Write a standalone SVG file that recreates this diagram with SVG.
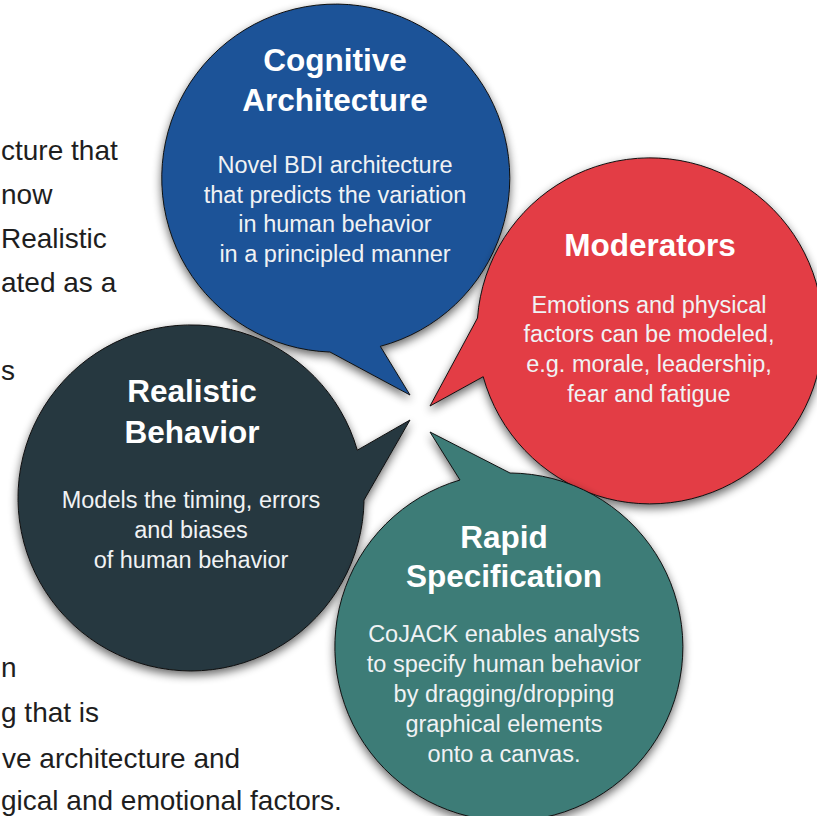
<svg xmlns="http://www.w3.org/2000/svg" width="817" height="816" viewBox="0 0 817 816">
<defs>
<filter id="sh" x="-20%" y="-20%" width="140%" height="140%">
<feGaussianBlur in="SourceAlpha" stdDeviation="5"/>
<feOffset dx="0" dy="4" result="b"/>
<feComponentTransfer><feFuncA type="linear" slope="0.6"/></feComponentTransfer>
<feMerge><feMergeNode/><feMergeNode in="SourceGraphic"/></feMerge>
</filter>
</defs>
<style>
.bg{font-family:"Liberation Sans",Arial,sans-serif;font-size:28px;fill:#1e1e1e}
.bub{stroke:#111;stroke-width:1;filter:url(#sh)}
.t{font-family:"Liberation Sans",Arial,sans-serif;font-size:31.5px;font-weight:bold;fill:#fff;text-anchor:middle}
.b{font-family:"Liberation Sans",Arial,sans-serif;font-size:23.5px;fill:#f0f2f4;text-anchor:middle}
</style>
<rect width="817" height="816" fill="#fff"/>
<g id="background-text" class="bg">
<text x="1" y="160">cture that</text>
<text x="1" y="204">now</text>
<text x="1" y="248">Realistic</text>
<text x="1" y="292">ated as a</text>
<text x="1" y="380">s</text>
<text x="1" y="677">n</text>
<text x="1" y="722">g that is</text>
<text x="2" y="768">ve architecture and</text>
<text x="1" y="810">gical and emotional factors.</text>
</g>
<g id="connectors"></g>
<g id="cognitive-architecture">
<path class="bub" fill="#1f5398" d="M380.3 346.3 L410 395 L330 352 A174 174 0 1 1 380.3 346.3 Z"/>
<text class="t" x="335" y="71">Cognitive</text>
<text class="t" x="335" y="111">Architecture</text>
<text class="b" x="335" y="173">Novel BDI architecture</text>
<text class="b" x="335" y="202.5">that predicts the variation</text>
<text class="b" x="335" y="232">in human behavior</text>
<text class="b" x="335" y="261.5">in a principled manner</text>
</g>
<g id="moderators">
<path class="bub" fill="#e33c44" d="M477.5 318 L430 406 L483.2 376.7 A173 173 0 1 0 477.5 318 Z"/>
<text class="t" x="650" y="256">Moderators</text>
<text class="b" x="649" y="312.5">Emotions and physical</text>
<text class="b" x="649" y="342">factors can be modeled,</text>
<text class="b" x="649" y="372">e.g. morale, leadership,</text>
<text class="b" x="649" y="401.5">fear and fatigue</text>
</g>
<g id="realistic-behavior">
<path class="bub" fill="#283840" d="M357.3 450.2 L410 420 L364 500 A173 173 0 1 1 357.3 450.2 Z"/>
<text class="t" x="192" y="402">Realistic</text>
<text class="t" x="192" y="443">Behavior</text>
<text class="b" x="191" y="508">Models the timing, errors</text>
<text class="b" x="191" y="538">and biases</text>
<text class="b" x="191" y="568">of human behavior</text>
</g>
<g id="rapid-specification">
<path class="bub" fill="#3c7b77" d="M460 480 L430 432 L510 473 A174 174 0 1 1 460 480 Z"/>
<text class="t" x="504" y="548">Rapid</text>
<text class="t" x="504" y="587">Specification</text>
<text class="b" x="504" y="642">CoJACK enables analysts</text>
<text class="b" x="504" y="672">to specify human behavior</text>
<text class="b" x="504" y="702">by dragging/dropping</text>
<text class="b" x="504" y="732">graphical elements</text>
<text class="b" x="504" y="762">onto a canvas.</text>
</g>
</svg>
